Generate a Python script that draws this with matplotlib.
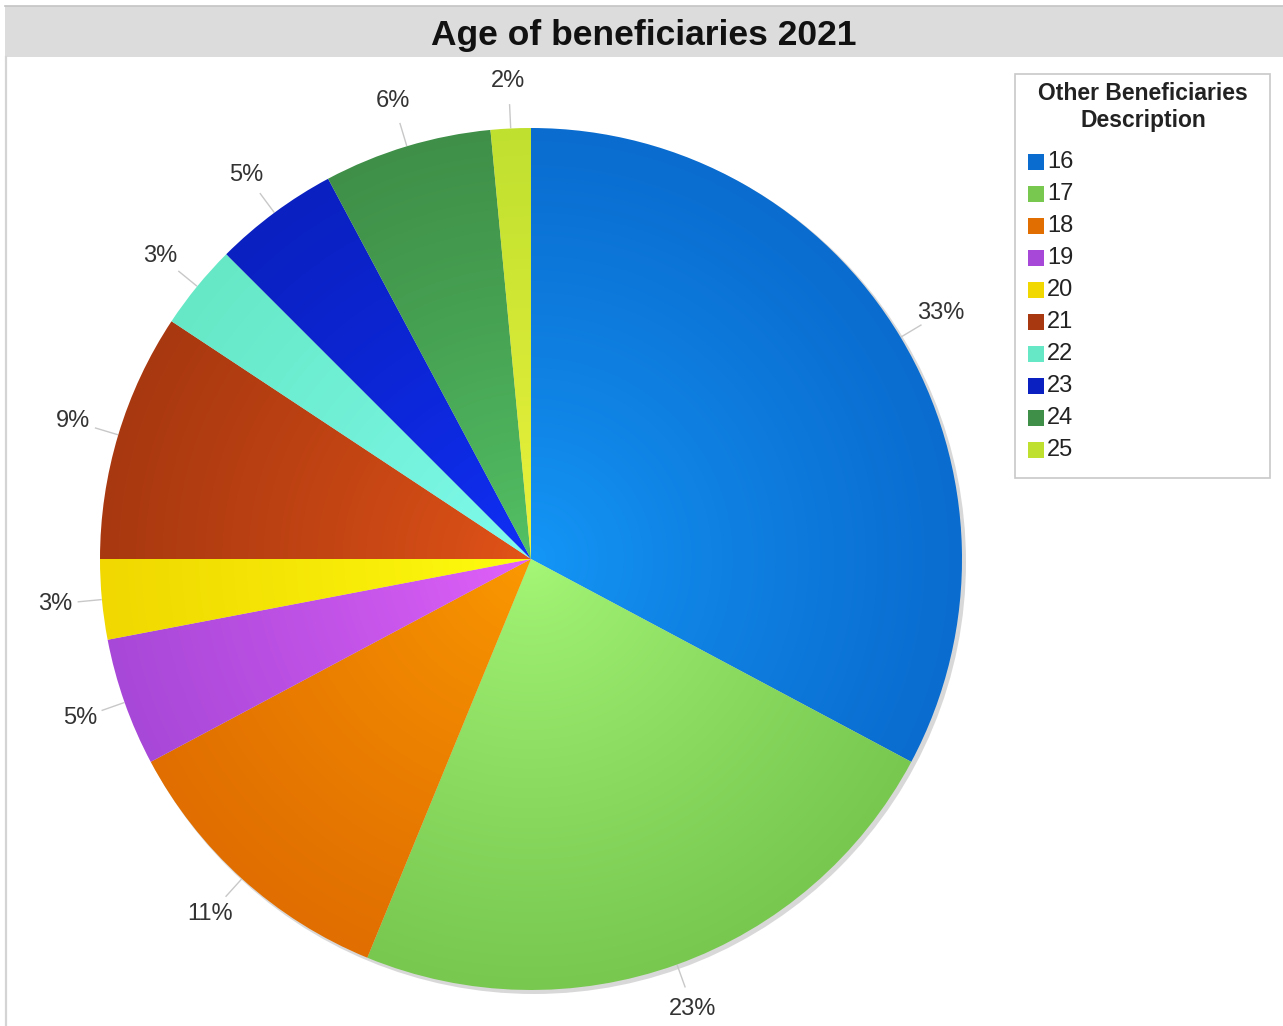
import numpy as np
import matplotlib
matplotlib.use("Agg")
import matplotlib.pyplot as plt
from matplotlib.patches import Wedge, Rectangle, Circle
from matplotlib.colors import to_rgb

# Data
ages = ['16', '17', '18', '19', '20', '21', '22', '23', '24', '25']
shares = [32.8, 23.4, 11.0, 4.8, 3.0, 9.3, 3.2, 4.7, 6.3, 1.5]
outer_colors = ['#0a6ccf', '#78c850', '#e06e00', '#a848d8', '#f0d800',
                '#a83810', '#66e8c6', '#0a20c0', '#3f8f48', '#c0e030']
inner_colors = ['#1498f8', '#a6f878', '#fc9a00', '#e462fc', '#ffff10',
                '#e45418', '#82fcf0', '#1030f8', '#54c466', '#f0f43c']
title = 'Age of beneficiaries 2021'
legend_title = 'Other Beneficiaries\nDescription'

W, H = 1283, 1026
fig = plt.figure(figsize=(W / 100, H / 100), dpi=100)
ax = fig.add_axes([0, 0, 1, 1])
ax.set_xlim(0, W)
ax.set_ylim(0, H)
ax.axis('off')

def py(y):
    # pixel row (from top) -> data y
    return H - y

# frame + title bar
ax.add_patch(Rectangle((5, py(57)), W - 5, 51, facecolor='#dcdcdc', edgecolor='none', zorder=1))
ax.plot([5, W], [py(5.5), py(5.5)], color='#c4c4c4', lw=1.2, zorder=2)
ax.plot([6, 6], [0, py(57)], color='#d4d4d4', lw=1.6, zorder=2)
ax.text(644, py(35), title, ha='center', va='center', fontsize=25.5,
        fontweight='bold', family='Liberation Sans', color='#111111', zorder=3)

# pie
cx, cy, R = 531, py(559), 431
ax.add_patch(Circle((cx + 3, cy - 3), R + 1, facecolor='#cfcfcf', edgecolor='none',
                    alpha=0.8, zorder=2))

n = 600
g = np.linspace(-1, 1, n)
gx, gy = np.meshgrid(g, g)
t = np.clip(np.sqrt(gx ** 2 + gy ** 2), 0, 1)[..., None]

total = sum(shares)
start = 0.0
for i, s in enumerate(shares):
    frac0 = start / total
    frac1 = (start + s) / total
    theta1 = 90 - frac1 * 360
    theta2 = 90 - frac0 * 360
    c_in = np.array(to_rgb(inner_colors[i]))
    c_out = np.array(to_rgb(outer_colors[i]))
    img = c_in + (c_out - c_in) * t ** 0.8
    w = Wedge((cx, cy), R, theta1, theta2, facecolor='none', edgecolor='none')
    ax.add_patch(w)
    im = ax.imshow(img, extent=(cx - R, cx + R, cy - R, cy + R), origin='lower',
                   interpolation='bilinear', zorder=3)
    im.set_clip_path(w)

    # label with leader line
    mid = np.deg2rad((theta1 + theta2) / 2)
    dx, dy = np.cos(mid), np.sin(mid)
    ax.plot([cx + dx * R * 1.002, cx + dx * R * 1.055],
            [cy + dy * R * 1.002, cy + dy * R * 1.055],
            color='#c8c8c8', lw=1.0, zorder=2)
    ax.text(cx + dx * R * 1.11, cy + dy * R * 1.11, '%d%%' % round(s),
            ha='center', va='center', fontsize=17, family='Liberation Sans',
            color='#333333', zorder=4)
    start += s

ax.set_xlim(0, W)
ax.set_ylim(0, H)

# legend
ax.add_patch(Rectangle((1015, py(478)), 255, 404, facecolor='white',
                       edgecolor='#c8c8c8', lw=1.2, zorder=4))
ax.text(1143, py(107), legend_title, ha='center', va='center', fontsize=16.5,
        fontweight='bold', family='Liberation Sans', color='#222222',
        linespacing=1.25, zorder=5)
for i, age in enumerate(ages):
    yc = py(162 + 32 * i)
    ax.add_patch(Rectangle((1028, yc - 8), 16, 16, facecolor=outer_colors[i],
                           edgecolor='none', zorder=5))
    ax.text(1047, yc, age, ha='left', va='center', fontsize=17,
            family='Liberation Sans', color='#222222', zorder=5)

fig.savefig('out.png', dpi=100)
